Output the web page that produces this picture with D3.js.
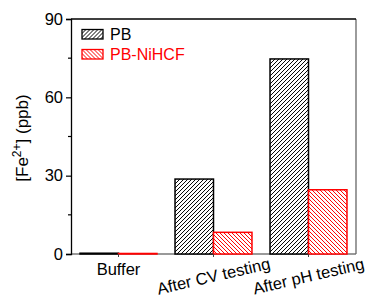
<!DOCTYPE html>
<html>
<head>
<meta charset="utf-8">
<script src="https://cdn.jsdelivr.net/npm/d3@7"></script>
<style>
  body { margin: 0; background: #fff; }
  svg { font-family: "Liberation Sans", Arial, sans-serif; }
</style>
</head>
<body>
<div id="chart"></div>
<script>
// data
var categories = ["Buffer", "After CV testing", "After pH testing"];
var seriesNames = ["PB", "PB-NiHCF"];
var pbValues = [0.3, 28.7, 74.7];
var nihcfValues = [0.2, 8.3, 24.6];
var yTicks = [0, 30, 60, 90];
var yMinorTicks = [15, 45, 75];

const width = 369, height = 300;
const plotLeft = 71, plotRight = 356, plotTop = 19, plotBottom = 254;

const svg = d3.select("#chart").append("svg")
  .attr("width", width)
  .attr("height", height);

// hatch patterns
const defs = svg.append("defs");
function hatch(id, color, dir) {
  const p = defs.append("pattern")
    .attr("id", id)
    .attr("patternUnits", "userSpaceOnUse")
    .attr("width", 4)
    .attr("height", 4);
  p.append("rect").attr("width", 4).attr("height", 4).attr("fill", "#fff");
  if (dir > 0) {
    p.append("path").attr("d", "M-1,1 l2,-2 M0,4 l4,-4 M3,5 l2,-2");
  } else {
    p.append("path").attr("d", "M-1,3 l2,2 M0,0 l4,4 M3,-1 l2,2");
  }
  p.select("path").attr("stroke", color).attr("stroke-width", 1);
}
hatch("hatchPB", "#000", 1);
hatch("hatchNi", "#ff0000", -1);

const colors = ["#000", "#ff0000"];
const fills = ["url(#hatchPB)", "url(#hatchNi)"];

const x0 = d3.scaleBand()
  .domain(categories)
  .range([plotLeft, plotRight])
  .paddingInner(0.19)
  .paddingOuter(0.095);
const x1 = d3.scaleBand()
  .domain(seriesNames)
  .range([0, x0.bandwidth()]);
const y = d3.scaleLinear()
  .domain([0, 90])
  .range([plotBottom, plotTop]);

// frame: bottom and right in gray, top black
svg.append("line").attr("x1", plotLeft).attr("x2", plotRight).attr("y1", plotBottom).attr("y2", plotBottom)
  .attr("stroke", "#777").attr("stroke-width", 1.3);
svg.append("line").attr("x1", plotRight).attr("x2", plotRight).attr("y1", plotTop).attr("y2", plotBottom)
  .attr("stroke", "#666").attr("stroke-width", 1.3);
svg.append("line").attr("x1", plotLeft).attr("x2", plotRight).attr("y1", plotTop).attr("y2", plotTop)
  .attr("stroke", "#000").attr("stroke-width", 1.3);

// bars
var rows = categories.map(function(c, i) {
  return [{cat: c, s: 0, v: pbValues[i]}, {cat: c, s: 1, v: nihcfValues[i]}];
});
svg.append("g").selectAll("g")
  .data(rows).enter().append("g")
  .attr("transform", function(d) { return "translate(" + x0(d[0].cat) + ",0)"; })
  .selectAll("rect")
  .data(function(d) { return d; }).enter().append("rect")
  .attr("x", function(d) { return x1(seriesNames[d.s]); })
  .attr("y", function(d) { return y(d.v); })
  .attr("width", x1.bandwidth())
  .attr("height", function(d) { return y(0) - y(d.v); })
  .attr("fill", function(d) { return fills[d.s]; })
  .attr("stroke", function(d) { return colors[d.s]; })
  .attr("stroke-width", 1.5);

// y axis
const yAxis = svg.append("g")
  .attr("transform", "translate(" + plotLeft + ",0)")
  .call(d3.axisLeft(y).tickValues(yTicks).tickSize(5).tickPadding(3));
yAxis.select(".domain").attr("stroke", "#000").attr("stroke-width", 1.3);
yAxis.selectAll(".tick line").attr("stroke", "#000").attr("stroke-width", 1.2);
yAxis.selectAll("text").style("font-size", "16.5px").attr("fill", "#000");
svg.append("g")
  .selectAll("line").data(yMinorTicks).enter().append("line")
  .attr("x1", plotLeft - 3).attr("x2", plotLeft)
  .attr("y1", function(d) { return y(d); })
  .attr("y2", function(d) { return y(d); })
  .attr("stroke", "#000").attr("stroke-width", 1.2);

// x axis ticks
const xAxis = svg.append("g")
  .attr("transform", "translate(0," + plotBottom + ")")
  .call(d3.axisBottom(x0).tickSize(3));
xAxis.select(".domain").remove();
xAxis.selectAll(".tick line").attr("stroke", "#444");
xAxis.selectAll("text")
  .style("font-size", "16.5px")
  .attr("fill", "#000")
  .attr("y", 0)
  .attr("dy", function(d, i) { return i === 0 ? "0" : "0.35em"; })
  .attr("transform", function(d, i) { return i === 0 ? "translate(0,21)" : "translate(0,22) rotate(-13)"; });

// y label
svg.append("text")
  .attr("transform", "translate(28,138) rotate(-90)")
  .attr("text-anchor", "middle")
  .style("font-size", "17px")
  .html("[Fe<tspan dy='-7' font-size='12'>2+</tspan><tspan dy='7'>] (ppb)</tspan>");

// legend
const legend = svg.append("g").selectAll("g")
  .data(seriesNames).enter().append("g")
  .attr("transform", function(d, i) { return "translate(82," + (29.5 + i * 20) + ")"; });
legend.append("rect")
  .attr("width", 21).attr("height", 9.5)
  .attr("fill", function(d, i) { return fills[i]; })
  .attr("stroke", function(d, i) { return colors[i]; })
  .attr("stroke-width", 1.3);
legend.append("text")
  .attr("x", 28).attr("y", 10)
  .style("font-size", "16px")
  .attr("fill", function(d, i) { return colors[i]; })
  .text(function(d) { return d; });
</script>
</body>
</html>
